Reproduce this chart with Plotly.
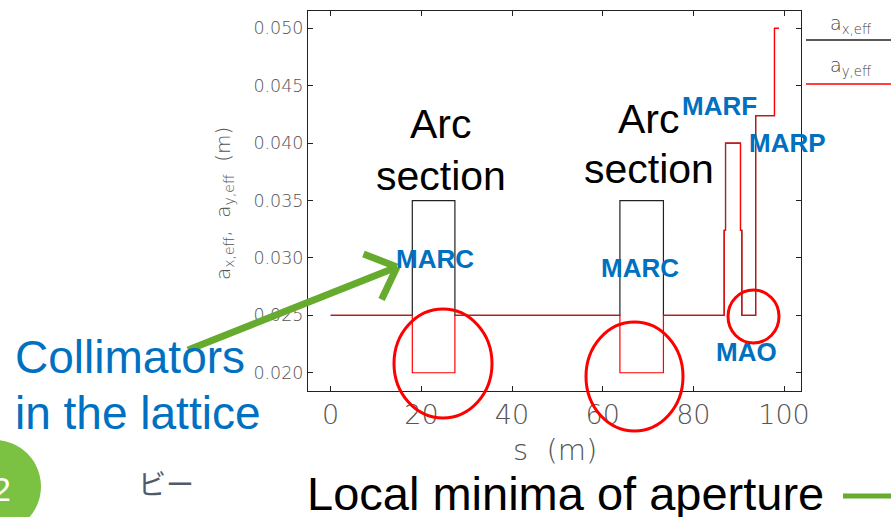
import math
import plotly.graph_objects as go

# Element start positions along the lattice (m) and effective apertures (m)
s_start = [0.0, 18.0, 27.4, 63.8, 73.4, 86.8, 87.1, 90.4, 90.7, 93.75, 97.9, 98.9]
a_x_eff = [0.025, 0.035, 0.025, 0.035, 0.025, 0.0324, 0.040, 0.0324, 0.025, 0.0424, 0.050, 0.050]
a_y_eff = [0.025, 0.020, 0.025, 0.020, 0.025, 0.0324, 0.040, 0.0324, 0.025, 0.0424, 0.050, 0.050]

x_ticks = [0, 20, 40, 60, 80, 100]
y_ticks = [0.020, 0.025, 0.030, 0.035, 0.040, 0.045, 0.050]

W, H = 891, 517
L, R, T, B = 308, 801, 11, 391  # plot box in pixels


def px(x):
    return (x - L) / (R - L)


def py(y):
    return (B - y) / (B - T)


TICK_FONT = "DejaVu Sans"
THIN = 200
BLUE = "#0070C0"
GREEN = "#66AA2E"

fig = go.Figure()
fig.add_trace(go.Scatter(x=s_start, y=a_x_eff, mode="lines", line_shape="hv",
                         line=dict(color="#222222", width=1.2), name="a_x,eff",
                         showlegend=False))
fig.add_trace(go.Scatter(x=s_start, y=a_y_eff, mode="lines", line_shape="hv",
                         line=dict(color="#ff0000", width=1.2), name="a_y,eff",
                         showlegend=False))

axis_common = dict(showline=True, linecolor="#222222", linewidth=1, mirror="ticks",
                   ticks="inside", ticklen=5, tickcolor="#222222", showgrid=False,
                   zeroline=False)
fig.update_xaxes(range=[-5.01, 103.75], tickvals=x_ticks,
                 tickfont=dict(family=TICK_FONT, size=27, color="#555555", weight=THIN),
                 **axis_common)
fig.update_yaxes(range=[0.01841, 0.05151], tickvals=y_ticks, tickformat=".3f",
                 tickfont=dict(family=TICK_FONT, size=17.5, color="#555555", weight=THIN),
                 **axis_common)

ann = []


def text(x, y, s, size, color="black", family="Liberation Sans", bold=False,
         xanchor="center", angle=0, weight=None):
    w = "bold" if bold else (weight if weight else "normal")
    ann.append(dict(x=px(x), y=py(y), xref="paper", yref="paper", text=s,
                    showarrow=False, xanchor=xanchor, yanchor="middle",
                    textangle=angle,
                    font=dict(family=family, size=size, color=color, weight=w)))


# axis titles
text(555, 450, "s  (m)", 29, color="#555555", family=TICK_FONT, weight=THIN)
text(224, 204, "a<sub>x,eff</sub>,  a<sub>y,eff</sub>  (m)", 20, color="#555555",
     family=TICK_FONT, angle=-90, weight=THIN)

# legend entries drawn beside the plot box
text(851, 24, "a<sub>x,eff</sub>", 19, color="#444444", family=TICK_FONT, weight=THIN)
text(851, 66, "a<sub>y,eff</sub>", 19, color="#444444", family=TICK_FONT, weight=THIN)

# section labels
text(441, 124, "Arc", 41)
text(441, 176, "section", 41)
text(649, 119, "Arc", 41)
text(649, 169, "section", 41)

# element labels
text(435, 259, "MARC", 26, color=BLUE, bold=True)
text(640, 268, "MARC", 26, color=BLUE, bold=True)
text(719, 106, "MARF", 26, color=BLUE, bold=True)
text(787, 143, "MARP", 26, color=BLUE, bold=True)
text(746, 352, "MAO", 26, color=BLUE, bold=True)

# callouts
text(13, 357, "Collimators", 46, color=BLUE, xanchor="left")
text(13, 413, "in the lattice", 46, color=BLUE, xanchor="left")
text(565, 493, "Local minima of aperture", 47)
text(166, 483, "ビー", 28, color="#505A6A", family="Noto Sans CJK JP")

shapes = []


def line(x0, y0, x1, y1, color, width):
    shapes.append(dict(type="line", xref="paper", yref="paper",
                       x0=px(x0), y0=py(y0), x1=px(x1), y1=py(y1),
                       line=dict(color=color, width=width)))


def ellipse(x0, y0, x1, y1, color, width=3, fill=None):
    d = dict(type="circle", xref="paper", yref="paper",
             x0=px(x0), y0=py(y1), x1=px(x1), y1=py(y0),
             line=dict(color=color, width=width))
    if fill:
        d["fillcolor"] = fill
    shapes.append(d)


# legend swatches
line(806, 40, 891, 40, "#222222", 1.5)
line(806, 84, 891, 84, "#ff0000", 1.5)

# red rings around the aperture minima
ellipse(394, 309, 492, 418, "#ff0000")
ellipse(586, 322, 683, 431, "#ff0000")
ellipse(728, 290, 779, 343, "#ff0000")

# green pointer from the callout to the MARC label
tail, tip = (188, 350), (397, 267)
line(tail[0], tail[1], tip[0], tip[1], GREEN, 7)
ang = math.atan2(tail[1] - tip[1], tail[0] - tip[0])
for da in (-0.75, 0.75):
    ex = tip[0] + 36 * math.cos(ang + da)
    ey = tip[1] + 36 * math.sin(ang + da)
    line(tip[0], tip[1], ex, ey, GREEN, 7)

# short green rule after the bottom caption
line(843, 496, 891, 496, GREEN, 5)

# slide-number badge
ellipse(-52, 440, 41, 533, "#7CC242", width=0, fill="#7CC242")
fig.update_layout(shapes=shapes)
text(13, 489, "2", 34, color="white", xanchor="right")

fig.update_layout(annotations=ann, width=W, height=H,
                  margin=dict(l=L, r=W - R, t=T, b=H - B),
                  plot_bgcolor="white", paper_bgcolor="white")

fig.write_html("out.html")
